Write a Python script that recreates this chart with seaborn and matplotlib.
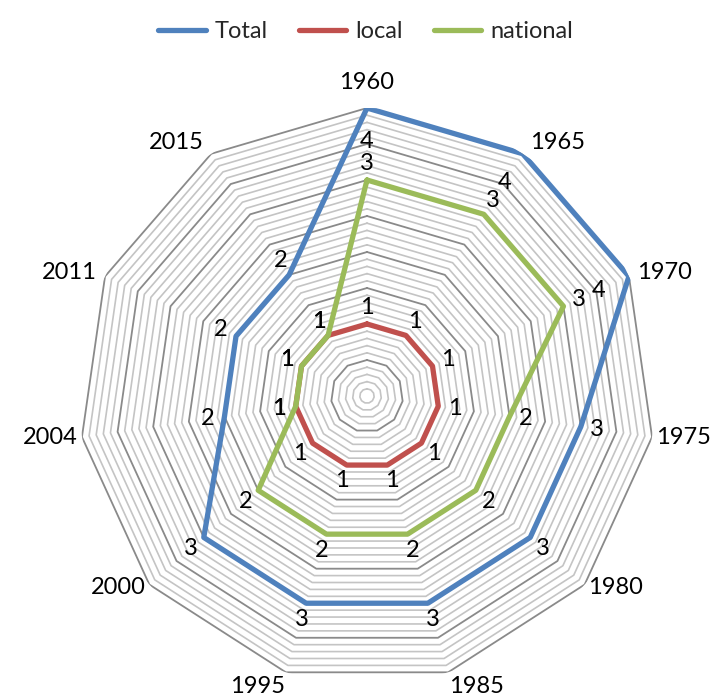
import numpy as np
import pandas as pd
import seaborn as sns
import matplotlib.pyplot as plt
from matplotlib.lines import Line2D

# Radar chart values
categories = ['1960', '1965', '1970', '1975', '1980', '1985', '1995', '2000', '2004', '2011', '2015']
total = [4.0, 4.0, 4.0, 3.0, 3.0, 3.0, 3.0, 3.0, 2.0, 2.0, 2.0]
local = [1.0, 1.0, 1.0, 1.0, 1.0, 1.0, 1.0, 1.0, 1.0, 1.0, 1.0]
national = [3.0, 3.0, 3.0, 2.0, 2.0, 2.0, 2.0, 2.0, 1.0, 1.0, 1.0]
series_names = ['Total', 'local', 'national']
colors = ['#4F81BD', '#C0504D', '#9BBB59']

sns.set_style('white')
plt.rcParams['font.family'] = ['Lato', 'DejaVu Sans']
FS = 17

n = len(categories)
theta = np.arange(n) * 2 * np.pi / n
theta_closed = np.append(theta, 2 * np.pi)

rows = []
for name, vals in zip(series_names, [total, local, national]):
    for t, v in zip(theta_closed, vals + [vals[0]]):
        rows.append({'theta': t, 'value': v, 'series': name})
df = pd.DataFrame(rows)

fig = plt.figure(figsize=(7.17, 6.96), dpi=100)
ax = fig.add_axes([0.1102, 0.01724, 0.8033, 0.8276], projection='polar')
ax.set_theta_zero_location('N')
ax.set_theta_direction(-1)
ax.set_ylim(0, 4)
ax.grid(False)
ax.set_xticks([])
ax.set_yticks([])
ax.spines['polar'].set_visible(False)

# polygon gridlines, minor 0.1, major 0.5
for k in range(1, 41):
    r = k / 10
    major = k % 5 == 0
    ax.plot(theta_closed, [r] * (n + 1),
            color='#8A8A8A' if major else '#C4C4C4',
            lw=1.3 if major else 1.2, zorder=1)

sns.lineplot(data=df, x='theta', y='value', hue='series', sort=False,
             palette=dict(zip(series_names, colors)), lw=3.8,
             estimator=None, ax=ax, zorder=3, legend=False)
ax.set_xlabel('')
ax.set_ylabel('')

# data labels
for vals in [total, local, national]:
    for t, v in zip(theta, vals):
        r_lab = v - 0.47 if v >= 3.9 else v + 0.23
        ax.text(t, r_lab, f'{v:.0f}', ha='center', va='center',
                fontsize=FS, color='black', zorder=4)

# category labels, anchored just outside the outer ring
for t, c in zip(theta, categories):
    s, co = np.sin(t), np.cos(t)
    ha = 'center' if abs(s) < 0.2 else ('left' if s > 0 else 'right')
    if co > 0.9:
        va = 'bottom'
    elif co < -0.9:
        va = 'top'
    else:
        va = 'center'
    r_anchor = 4.06 + 0.15 * max(co, 0)
    ax.text(t, r_anchor, c, ha=ha, va=va, fontsize=FS, color='black')

handles = [Line2D([0], [0], color=c, lw=3.8, solid_capstyle='round') for c in colors]
fig.legend(handles, series_names, loc='upper center', bbox_to_anchor=(0.51, 1.0),
           ncol=3, frameon=False, fontsize=FS, handlelength=2.0,
           handletextpad=0.4, columnspacing=1.3)

fig.savefig('out.png', dpi=100)
